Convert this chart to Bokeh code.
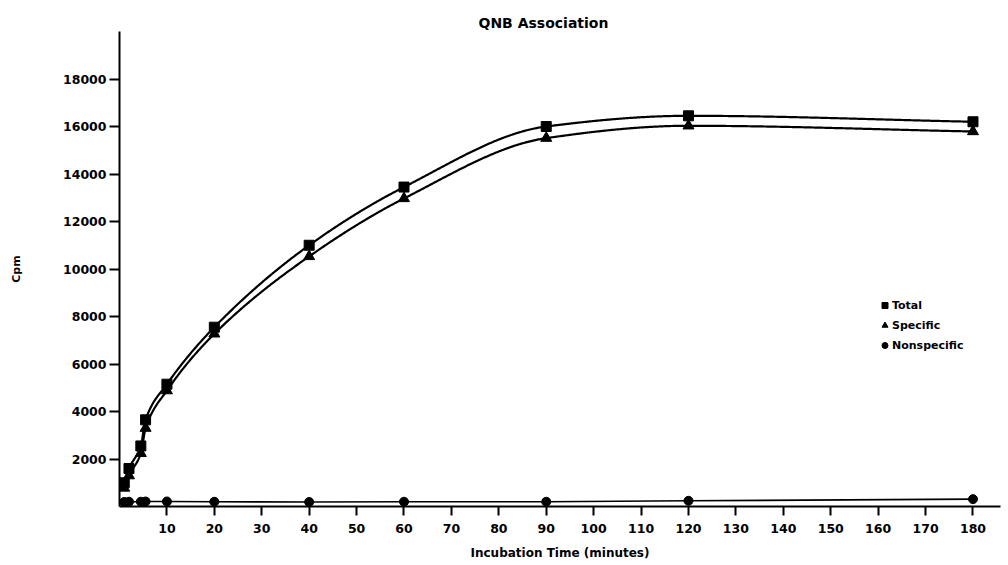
import numpy as np
from bokeh.plotting import figure
from bokeh.models import Range1d, FixedTicker, Title, Legend, LegendItem
from bokeh.embed import file_html
from bokeh.resources import INLINE

# ---- data ----
time_min = [1, 2, 4.5, 5.5, 10, 20, 40, 60, 90, 120, 180]
total = [1000, 1600, 2550, 3650, 5150, 7550, 11000, 13450, 16000, 16450, 16200]
specific = [780, 1300, 2240, 3300, 4880, 7270, 10530, 12970, 15510, 16030, 15790]
nonspecific = [190, 200, 200, 210, 210, 200, 190, 200, 200, 240, 310]

x_ticks = [10, 20, 30, 40, 50, 60, 70, 80, 90, 100, 110, 120, 130, 140, 150, 160, 170, 180]
y_ticks = [2000, 4000, 6000, 8000, 10000, 12000, 14000, 16000, 18000]

FONT = "DejaVu Sans"


def smooth_curve(xs, ys, n=800):
    """Monotone (Fritsch-Carlson) cubic through the points, for drawing the line."""
    xs = np.asarray(xs, float)
    ys = np.asarray(ys, float)
    k = len(xs)
    h = np.diff(xs)
    delta = np.diff(ys) / h
    d = np.zeros(k)
    for i in range(1, k - 1):
        if delta[i - 1] * delta[i] <= 0:
            d[i] = 0.0
        else:
            w1 = 2 * h[i] + h[i - 1]
            w2 = h[i] + 2 * h[i - 1]
            d[i] = (w1 + w2) / (w1 / delta[i - 1] + w2 / delta[i])
    d[0] = delta[0]
    d[-1] = delta[-1]
    xx = np.linspace(xs[0], xs[-1], n)
    idx = np.clip(np.searchsorted(xs, xx) - 1, 0, k - 2)
    hh = h[idx]
    t = (xx - xs[idx]) / hh
    h00 = 2 * t ** 3 - 3 * t ** 2 + 1
    h10 = t ** 3 - 2 * t ** 2 + t
    h01 = -2 * t ** 3 + 3 * t ** 2
    h11 = t ** 3 - t ** 2
    yy = (h00 * ys[idx] + h10 * hh * d[idx]
          + h01 * ys[idx + 1] + h11 * hh * d[idx + 1])
    return xx, yy


p = figure(width=1004, height=564,
           x_range=Range1d(0, 185.8), y_range=Range1d(0, 20000),
           output_backend="svg", toolbar_location=None,
           min_border_left=119, min_border_right=4,
           min_border_top=31, min_border_bottom=58)
p.outline_line_color = None
p.xgrid.grid_line_color = None
p.ygrid.grid_line_color = None
p.background_fill_color = "white"
p.border_fill_color = "white"

# title
p.add_layout(Title(text="QNB Association", align="left", offset=359,
                   standoff=2, text_font=FONT, text_font_style="bold",
                   text_font_size="14px", text_color="black"), "above")

# curves
tx, ty = smooth_curve(time_min, total)
sx, sy = smooth_curve(time_min, specific)
p.line(tx, ty, line_color="black", line_width=2.2)
p.line(sx, sy, line_color="black", line_width=2.2)
p.line(time_min, nonspecific, line_color="black", line_width=1.6)

# markers
r_tot = p.scatter(time_min, total, marker="square", size=10, color="black")
r_spe = p.scatter(time_min, specific, marker="triangle", size=11, color="black")
r_non = p.scatter(time_min, nonspecific, marker="circle", size=9, color="black")

# axes
for ax in (p.xaxis[0], p.yaxis[0]):
    ax.axis_line_width = 2
    ax.axis_line_color = "black"
    ax.major_tick_line_width = 2
    ax.major_tick_line_color = "black"
    ax.major_tick_in = 0
    ax.minor_tick_line_color = None
    ax.major_label_text_font = FONT
    ax.major_label_text_font_style = "bold"
    ax.major_label_text_font_size = "12.5px"
    ax.major_label_text_color = "black"
    ax.axis_label_text_font = FONT
    ax.axis_label_text_font_style = "bold"
    ax.axis_label_text_color = "black"

p.xaxis[0].ticker = FixedTicker(ticks=x_ticks)
p.xaxis[0].major_tick_out = 9
p.xaxis[0].major_label_standoff = 8
p.xaxis[0].axis_label = "Incubation Time (minutes)"
p.xaxis[0].axis_label_text_font_size = "12px"
p.xaxis[0].axis_label_standoff = 10

p.yaxis[0].ticker = FixedTicker(ticks=y_ticks)
p.yaxis[0].major_tick_out = 10
p.yaxis[0].major_label_standoff = 3
p.yaxis[0].axis_label = "Cpm"
p.yaxis[0].axis_label_text_font_size = "11px"
p.yaxis[0].axis_label_standoff = 37

# legend
legend = Legend(items=[LegendItem(label="Total", renderers=[r_tot]),
                       LegendItem(label="Specific", renderers=[r_spe]),
                       LegendItem(label="Nonspecific", renderers=[r_non])],
                location=(758, 151), padding=0, margin=0, spacing=0,
                label_height=20, glyph_height=16, glyph_width=15,
                label_standoff=0, border_line_color=None,
                background_fill_alpha=0,
                label_text_font=FONT, label_text_font_style="bold",
                label_text_font_size="11px", label_text_color="black")
p.add_layout(legend)

open("out.html", "w").write(file_html(p, INLINE))
